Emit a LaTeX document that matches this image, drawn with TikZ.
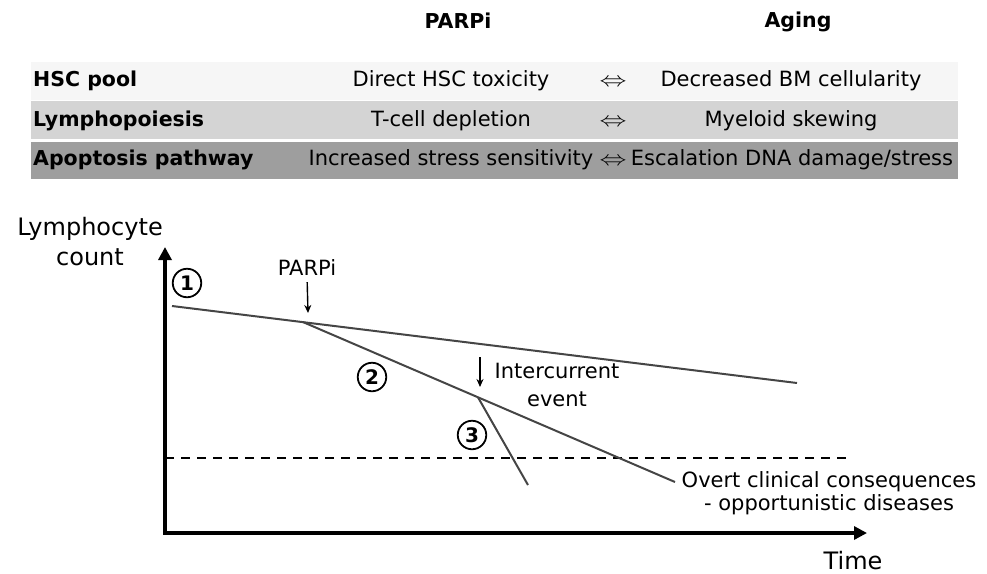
\documentclass[tikz,border=0pt]{standalone}
\usepackage{fontspec}
\setmainfont{DejaVu Sans}
\usepackage{graphicx}
\usetikzlibrary{arrows.meta,calc}
\definecolor{rowA}{HTML}{F6F6F6}
\definecolor{rowB}{HTML}{D4D4D4}
\definecolor{rowC}{HTML}{9E9E9E}
\definecolor{trendgray}{HTML}{454545}

\begin{document}
\begin{tikzpicture}[x=1pt,y=-1pt,
  colhead/.style={font=\fontsize{20.5}{24}\selectfont\bfseries,inner sep=0pt,anchor=base},
  cell/.style={font=\fontsize{21}{25}\selectfont,inner sep=0pt,anchor=base},
  lbl/.style={font=\fontsize{21}{23}\selectfont,align=center,inner sep=0pt},
  axlbl/.style={font=\fontsize{24}{30}\selectfont,align=center,inner sep=0pt},
  circnum/.style={circle,draw,line width=1.8pt,minimum size=28.5pt,inner sep=0pt,font=\fontsize{20}{20}\selectfont\bfseries},
  trend/.style={draw=trendgray,line width=2pt},
  axisline/.style={line width=3.2pt,{Triangle[width=13pt,length=13pt]}-{Triangle[width=13pt,length=13pt]}},
  cue/.style={line width=1.4pt,-{Stealth[width=7pt,length=8pt]}}]
\useasboundingbox (0,0) rectangle (987,573);

% table
\fill[rowA] (31,62) rectangle (958,100);
\fill[rowB] (31,101) rectangle (958,139);
\fill[rowC] (31,142) rectangle (958,179);
\node[colhead] (hparp) at (458,28) {PARPi};
\node[colhead] (haging) at (798,27) {Aging};

\node[colhead,anchor=base west] (rhsc) at (33,86) {HSC pool};
\node[cell] (phsc) at (451,86) {Direct HSC toxicity};
\node[cell] (ehsc) at (613,86) {\scalebox{1.3}[1]{$\Leftrightarrow$}};
\node[cell] (ahsc) at (791,86) {Decreased BM cellularity};

\node[colhead,anchor=base west] (rlym) at (33,126) {Lymphopoiesis};
\node[cell] (plym) at (451,126) {T-cell depletion};
\node[cell] (elym) at (613,126) {\scalebox{1.3}[1]{$\Leftrightarrow$}};
\node[cell] (alym) at (791,126) {Myeloid skewing};

\node[colhead,anchor=base west] (rapo) at (33,165) {Apoptosis pathway};
\node[cell] (papo) at (451,165) {Increased stress sensitivity};
\node[cell] (eapo) at (613,165) {\scalebox{1.3}[1]{$\Leftrightarrow$}};
\node[cell] (aapo) at (792,165) {Escalation DNA damage/stress};

% graph
\coordinate (o) at (165,533);
\coordinate (ytop) at (165,247);
\coordinate (xend) at (867,533);
\draw[axisline] (ytop) -- (o) -- (xend);
\node[axlbl] (ylab) at (90,242) {Lymphocyte\\count};
\node[axlbl,anchor=base] (xlab) at (853,569) {Time};

\coordinate (thr0) at (165,458);
\coordinate (thr1) at (850,458);
\draw[line width=1.8pt,dash pattern=on 9pt off 7pt] (thr0) -- (thr1);

\coordinate (a0) at (172,306);
\coordinate (a1) at (797,383);
\coordinate (p) at ($(a0)!0.21!(a1)$);
\coordinate (b1) at (675,482);
\coordinate (q) at ($(p)!0.47!(b1)$);
\coordinate (c1) at (528,485);
\draw[trend] (a0) -- (a1);
\draw[trend] (p) -- (b1);
\draw[trend] (q) -- (c1);

\node[lbl,anchor=base] (lparp) at (307,275) {PARPi};
\coordinate (parptip) at (308,313);
\draw[cue,shorten <=7pt] (lparp.south) -- (parptip);

\coordinate (evtop) at (480,357);
\coordinate (evtip) at (480,387);
\draw[cue] (evtop) -- (evtip);
\node[lbl,font=\fontsize{21}{28}\selectfont] (levent) at (557,385) {Intercurrent\\event};

\node[lbl] (lovert) at (829,493) {Overt clinical consequences\\- opportunistic diseases};

\node[circnum] (n1) at (187,283) {1};
\node[circnum] (n2) at (372,377) {2};
\node[circnum] (n3) at (472,435) {3};
\end{tikzpicture}
\end{document}
